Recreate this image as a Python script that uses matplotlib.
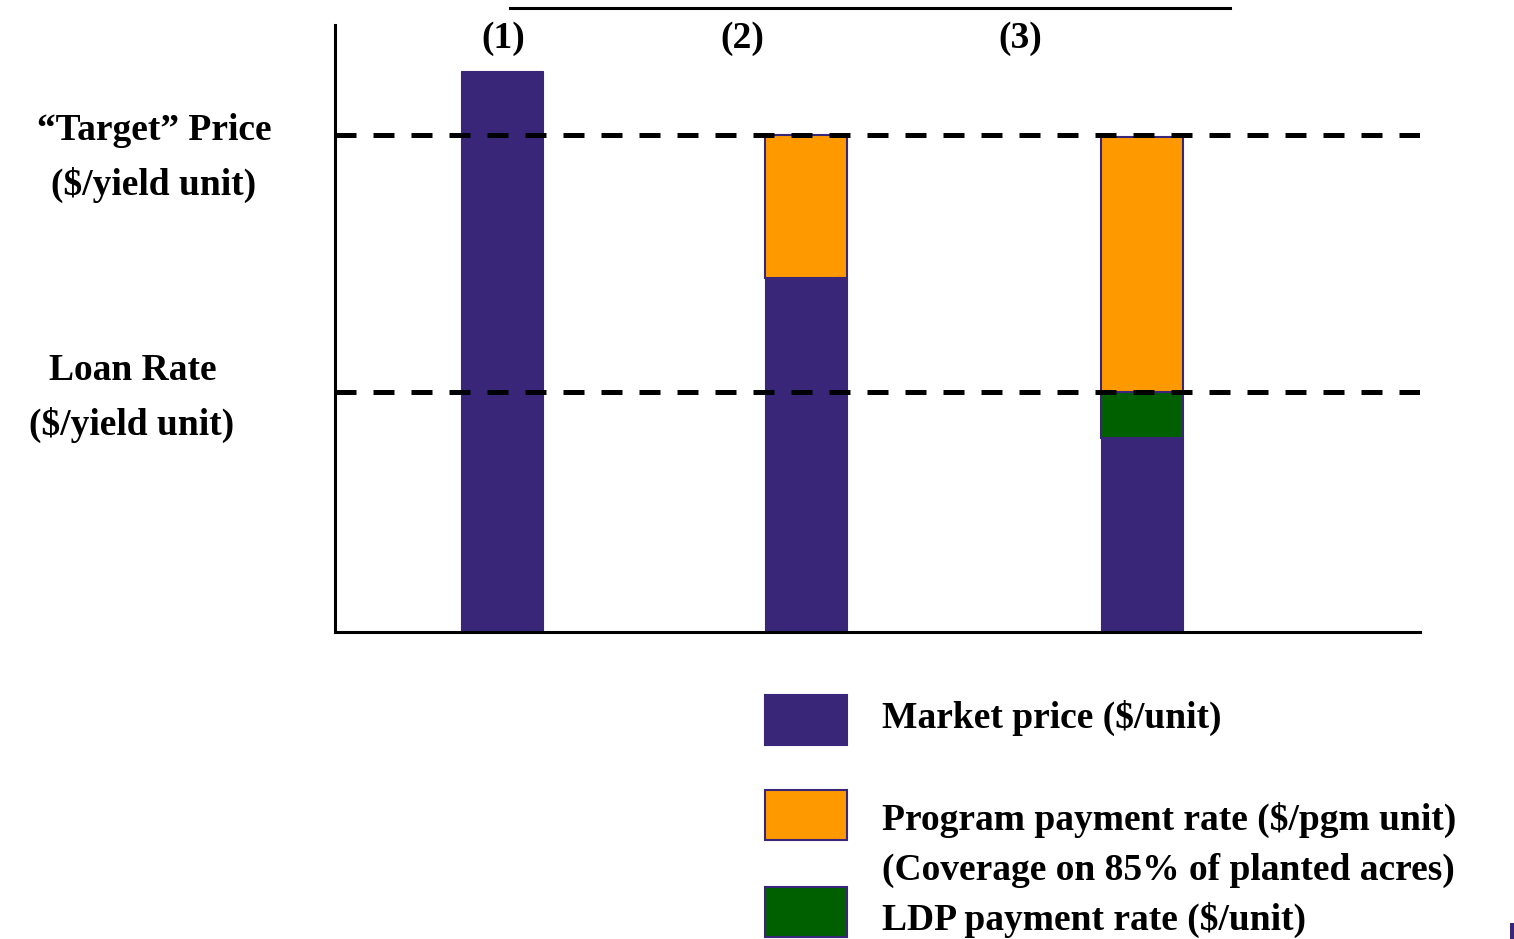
import matplotlib
matplotlib.use("Agg")
import matplotlib.pyplot as plt
from matplotlib.patches import Rectangle
from matplotlib.lines import Line2D

# ---- data (heights in arbitrary price units) ----
scenarios = ["(1)", "(2)", "(3)"]
market_price = [5.61, 3.54, 1.94]
ldp_payment = [0.0, 0.0, 0.46]
program_payment = [0.0, 1.43, 2.55]
target_price = 4.97
loan_rate = 2.40

legend_labels = ["Market price ($/unit)",
                 "Program payment rate ($/pgm unit)\n(Coverage on 85% of planted acres)",
                 "LDP payment rate ($/unit)"]

PURPLE = "#3a2679"
ORANGE = "#ff9900"
GREEN = "#006000"

FONT = ["Liberation Serif", "DejaVu Serif"]
FS = 27

W, H = 1514, 939
fig = plt.figure(figsize=(W / 100, H / 100), dpi=100)

def fx(px):
    return px / W

def fy(py):
    return 1 - py / H

ax = fig.add_axes([fx(335), fy(632), (1420 - 335) / W, (632 - 25) / H])
ax.set_xlim(0, 10.85)
ax.set_ylim(0, 6.07)

x_pos = [1.67, 4.71, 8.07]
bw = 0.82

ax.bar(x_pos, market_price, width=bw, color=PURPLE, edgecolor=PURPLE, linewidth=0.8, zorder=2)
bottom_ldp = market_price
ax.bar(x_pos, ldp_payment, width=bw, bottom=bottom_ldp, color=GREEN,
       edgecolor=[PURPLE if v > 0 else "none" for v in ldp_payment], linewidth=1.5, zorder=2)
bottom_prog = [m + l for m, l in zip(market_price, ldp_payment)]
ax.bar(x_pos, program_payment, width=bw, bottom=bottom_prog, color=ORANGE,
       edgecolor=[PURPLE if v > 0 else "none" for v in program_payment], linewidth=1.5, zorder=2)

lw = 3.6
for yv in (target_price, loan_rate):
    ax.axhline(yv, color="black", linewidth=lw,
               dashes=(21 * 0.72 / lw, 17 * 0.72 / lw), zorder=3)

for s in ("top", "right"):
    ax.spines[s].set_visible(False)
for s in ("left", "bottom"):
    ax.spines[s].set_linewidth(2.2)
ax.set_xticks([])
ax.set_yticks([])

# scenario labels
label_x = [1.68, 4.07, 6.85]
for lx, s in zip(label_x, scenarios):
    ax.text(lx, 5.94, s, ha="center", va="center", fontsize=FS, family=FONT, fontweight="bold")

# top line
fig.add_artist(Line2D([fx(510), fx(1230)], [fy(8), fy(8)], color="black", linewidth=2.2))

# left labels
fig.text(fx(154), fy(140), "\u201cTarget\u201d Price", ha="center", va="baseline",
         fontsize=FS, family=FONT, fontweight="bold")
fig.text(fx(154), fy(195), "($/yield unit)", ha="center", va="baseline",
         fontsize=FS, family=FONT, fontweight="bold")
fig.text(fx(133), fy(380), "Loan Rate", ha="center", va="baseline",
         fontsize=FS, family=FONT, fontweight="bold")
fig.text(fx(132), fy(435), "($/yield unit)", ha="center", va="baseline",
         fontsize=FS, family=FONT, fontweight="bold")

# legend
patch_y = [695, 790, 887]
colors = [PURPLE, ORANGE, GREEN]
for py, c in zip(patch_y, colors):
    fig.add_artist(Rectangle((fx(765), fy(py + 50)), 82 / W, 50 / H, facecolor=c,
                             edgecolor=PURPLE, linewidth=1.5, transform=fig.transFigure))
fig.text(fx(882), fy(728), legend_labels[0], ha="left", va="baseline",
         fontsize=FS, family=FONT, fontweight="bold")
l1, l2 = legend_labels[1].split("\n")
fig.text(fx(882), fy(830), l1, ha="left", va="baseline",
         fontsize=FS, family=FONT, fontweight="bold")
fig.text(fx(882), fy(880), l2, ha="left", va="baseline",
         fontsize=FS, family=FONT, fontweight="bold")
fig.text(fx(882), fy(930), legend_labels[2], ha="left", va="baseline",
         fontsize=FS, family=FONT, fontweight="bold")

# small corner mark
fig.add_artist(Rectangle((fx(1510), fy(939)), 4 / W, 16 / H, facecolor=PURPLE,
                         edgecolor="none", transform=fig.transFigure))

fig.savefig("out.png", dpi=100)
